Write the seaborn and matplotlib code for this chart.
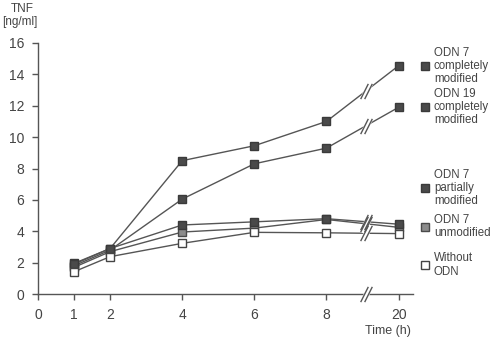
import matplotlib
matplotlib.use("Agg")
import matplotlib.pyplot as plt
import seaborn as sns
import pandas as pd
from matplotlib.path import Path
from matplotlib.transforms import offset_copy

# ---- data ----
times = [1, 2, 4, 6, 8, 20]
tick_labels = ["0", "1", "2", "4", "6", "8", "20"]
odn7_complete = [1.95, 2.9, 8.5, 9.45, 11.0, 14.55]
odn19_complete = [1.8, 2.8, 6.05, 8.3, 9.3, 11.9]
odn7_partial = [1.9, 2.9, 4.4, 4.6, 4.8, 4.45]
odn7_unmod = [1.7, 2.7, 3.95, 4.2, 4.75, 4.25]
without_odn = [1.42, 2.38, 3.23, 3.93, 3.9, 3.85]
labels = ["ODN 7\ncompletely\nmodified", "ODN 19\ncompletely\nmodified",
          "ODN 7\npartially\nmodified", "ODN 7\nunmodified", "Without\nODN"]

# broken axis: 20 h is drawn one step after 8 h
def to_pos(t):
    return t if t <= 8 else 10

positions = [to_pos(t) for t in times]
tick_pos = [0] + positions

sns.set_theme(style="ticks")
plt.rcParams['font.family'] = ['Liberation Sans', 'DejaVu Sans']

fig = plt.figure(figsize=(4.93, 3.42), dpi=100)
W, H = 493, 342
ax = fig.add_axes([38 / W, 48 / H, (413 - 38) / W, (294 - 43) / H])

line_c = "#555555"
dark = "#4a4a4a"
styles = [
    dict(mfc=dark, mec="#3a3a3a"),
    dict(mfc=dark, mec="#3a3a3a"),
    dict(mfc=dark, mec="#3a3a3a"),
    dict(mfc="#8c8c8c", mec="#4a4a4a"),
    dict(mfc="white", mec="#444444"),
]
zorders = [3.2, 3.1, 3.4, 3.3, 3.5]
series = [odn7_complete, odn19_complete, odn7_partial, odn7_unmod, without_odn]

for vals, st, z in zip(series, styles, zorders):
    df = pd.DataFrame({"pos": positions, "val": vals})
    sns.lineplot(data=df, x="pos", y="val", ax=ax, color=line_c, lw=1.0,
                 marker="s", markersize=5.6, markerfacecolor=st["mfc"],
                 markeredgecolor=st["mec"], markeredgewidth=1.0, zorder=z)

ax.set_xlim(0, 10.4)
ax.set_ylim(0, 16)
ax.set_xticks(tick_pos)
ax.set_xticklabels(tick_labels)
ax.set_yticks(range(0, 17, 2))
ax.set_xlabel("")
ax.set_ylabel("")
for s in ["top", "right"]:
    ax.spines[s].set_visible(False)
for s in ["left", "bottom"]:
    ax.spines[s].set_color("#555555")
    ax.spines[s].set_linewidth(1.0)
ax.tick_params(axis="both", colors="#555555", labelcolor="#444444",
               labelsize=10, length=4, width=1.0, pad=6)

# break marks
slash = Path([(-1, -2), (1, 2)])
def break_mark(x, y):
    ax.plot([x], [y], marker=slash, ms=12, color="white", mew=4,
            zorder=6, clip_on=False)
    for dx in (-1.6, 1.6):
        tr = offset_copy(ax.transData, fig=fig, x=dx, y=0, units="points")
        ax.plot([x], [y], marker=slash, ms=11, color="#555555", mew=1.0,
                transform=tr, zorder=7, clip_on=False)

bx = (positions[-2] + positions[-1]) / 2 + 0.1
for vals in series:
    break_mark(bx, (vals[-2] + vals[-1]) / 2 + 0.05 * (vals[-1] - vals[-2]))
break_mark(bx, 0)

# legend
leg_y = [14.55, 11.9, 6.75, 4.3, 1.85]
for lab, st, y in zip(labels, styles, leg_y):
    ax.plot([10.72], [y], marker="s", ms=5.4, mfc=st["mfc"], mec=st["mec"],
            mew=1.0, ls="none", clip_on=False)
    ax.text(10.98, y, lab, fontsize=8.3, color="#444444", va="center",
            ha="left", linespacing=1.12)

fig.text(22 / W, 1 - 9 / H, "TNF", fontsize=8.5, color="#444444",
         ha="center", va="center")
fig.text(20 / W, 1 - 22 / H, "[ng/ml]", fontsize=8.5, color="#444444",
         ha="center", va="center")
fig.text(388 / W, 1 - 331 / H, "Time (h)", fontsize=9, color="#444444",
         ha="center", va="center")

fig.savefig("out.png", dpi=100, facecolor="white")
